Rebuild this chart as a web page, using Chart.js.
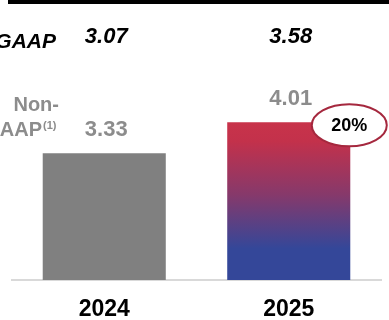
<!DOCTYPE html>
<html>
<head>
<meta charset="utf-8">
<script src="https://cdn.jsdelivr.net/npm/chart.js@4/dist/chart.umd.min.js"></script>
<style>
html,body{margin:0;padding:0;background:#fff;overflow:hidden;}
canvas{display:block;}
</style>
</head>
<body>
<canvas id="c" width="389" height="320"></canvas>
<script>
// ---- data ----
const categories = ['2024', '2025'];
const nonGaapEps = [3.33, 4.01];
const gaapEps = [3.07, 3.58];
const growthLabel = '20%';
const gaapRowLabel = 'GAAP';
const nonGaapRowLabel = ['Non-', 'GAAP'];
const footnoteMark = '(1)';

const FONT = '"Liberation Sans", Arial, Helvetica, sans-serif';
const GRAY_TEXT = '#8c8c8c';
const RED = '#c8334a';
const BLUE = '#344799';

function barFill(ctx) {
  const chart = ctx.chart;
  if (ctx.dataIndex === 0) return '#808080';
  const area = chart.chartArea;
  const ys = chart.scales && chart.scales.y;
  if (!area || !ys) return RED;
  const top = ys.getPixelForValue(ctx.raw);
  const bottom = area.bottom;
  if (!isFinite(top) || !isFinite(bottom) || bottom <= top) return RED;
  const g = chart.ctx.createLinearGradient(0, top, 0, bottom);
  g.addColorStop(0, RED);
  g.addColorStop(0.12, '#c3314b');
  g.addColorStop(0.46, '#86396b');
  g.addColorStop(0.8, BLUE);
  g.addColorStop(1, BLUE);
  return g;
}

const labelPlugin = {
  id: 'labels',
  afterDraw(chart) {
    const c = chart.ctx;
    const bars = chart.getDatasetMeta(0).data;
    c.save();
    // top black rule
    c.fillStyle = '#000';
    c.fillRect(8, 0, chart.width - 8, 4);

    // GAAP row
    c.textBaseline = 'alphabetic';
    c.fillStyle = '#000';
    c.font = 'italic bold 21px ' + FONT;
    c.textAlign = 'right';
    c.fillText(gaapRowLabel, 56, 48);
    c.font = 'italic bold 22px ' + FONT;
    c.textAlign = 'center';
    gaapEps.forEach((v, i) => {
      c.fillText(v.toFixed(2), bars[i].x + 2, 43);
    });

    // Non-GAAP row label
    c.fillStyle = GRAY_TEXT;
    c.font = 'bold 20px ' + FONT;
    c.textAlign = 'right';
    c.fillText(nonGaapRowLabel[0], 59, 111);
    c.fillText(nonGaapRowLabel[1], 42, 136);
    c.font = 'bold 11px ' + FONT;
    c.textAlign = 'left';
    c.fillText(footnoteMark, 43, 129);

    // Non-GAAP values above bars
    c.font = 'bold 22px ' + FONT;
    c.textAlign = 'center';
    nonGaapEps.forEach((v, i) => {
      c.fillText(v.toFixed(2), bars[i].x + 2, bars[i].y - 17);
    });

    // growth ellipse
    const last = bars[bars.length - 1];
    const ex = last.x + last.width / 2 - 1;
    const ey = last.y + 3;
    c.beginPath();
    c.ellipse(ex, ey, 37.5, 21, 0, 0, Math.PI * 2);
    c.fillStyle = '#fff';
    c.fill();
    c.lineWidth = 2;
    c.strokeStyle = '#a5283e';
    c.stroke();
    c.fillStyle = '#000';
    c.font = 'bold 18px ' + FONT;
    c.textAlign = 'center';
    c.textBaseline = 'middle';
    c.fillText(growthLabel, ex, ey + 1);
    c.restore();
  }
};

new Chart(document.getElementById('c'), {
  type: 'bar',
  data: {
    labels: categories,
    datasets: [{
      data: nonGaapEps,
      backgroundColor: barFill,
      borderWidth: 0,
      categoryPercentage: 1,
      barPercentage: 0.667
    }]
  },
  options: {
    responsive: false,
    animation: false,
    devicePixelRatio: 1,
    layout: { padding: { left: 12, right: 8, top: 0, bottom: 0 } },
    plugins: { legend: { display: false }, tooltip: { enabled: false } },
    scales: {
      x: {
        grid: { display: false, drawTicks: false },
        border: { display: true, color: '#d9d9d9', width: 2 },
        ticks: { color: '#000', font: { family: FONT, size: 23, weight: 'bold' }, padding: 16 },
        afterFit(scale) { scale.height = 40; }
      },
      y: {
        display: false,
        min: 0.55,
        max: 6.69
      }
    }
  },
  plugins: [labelPlugin]
});
</script>
</body>
</html>
